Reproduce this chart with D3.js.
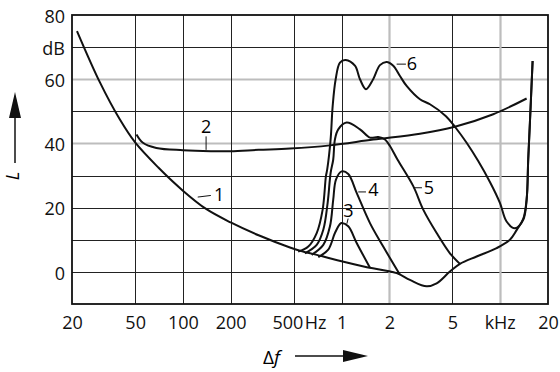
<!DOCTYPE html>
<html>
<head>
<meta charset="utf-8">
<script src="https://cdn.jsdelivr.net/npm/d3@7"></script>
<style>
	body { margin: 0; background: #fff; }
	svg { display: block; font-family: "Open Sans", "Noto Sans", sans-serif; }
	.grid { stroke: #222; stroke-width: 1; }
	.grid.em { stroke: #bdbdbd; stroke-width: 2.2; }
	.curve { fill: none; stroke: #111; stroke-width: 2; }
	.leader { stroke: #111; stroke-width: 1; }
</style>
</head>
<body>
<svg id="chart" width="560" height="372"></svg>
<script>
// frequency in Hz, level in dB
var xTicks = [20, 50, 100, 200, 500, 1000, 2000, 5000, 10000, 20000]
var xTickLabels = ["20", "50", "100", "200", "500", "1", "2", "5", "", "20"]
var xGrid = [50, 100, 200, 500, 1000, 2000, 5000, 10000]
var xGridEm = [2000, 10000]
var yTicks = [80, 70, 60, 40, 20, 0]
var yTickLabels = ["80", "dB", "60", "40", "20", "0"]
var yGrid = [70, 60, 50, 40, 30, 20, 10, 0]
var yGridEm = [60, 40]

var curve1 = [[21.5, 75], [30, 59], [40, 47.5], [50, 40.3], [70, 32.5], [100, 25.3], [140, 19.6],
	[200, 15.4], [300, 11.4], [473, 7.6], [547, 6.6], [767, 4.8], [1000, 3.3], [1400, 1.6],
	[2224, -0.4], [2697, -2.5], [3436, -4.5], [3974, -3.6], [4818, 0.1], [5572, 2.5], [7098, 4.8],
	[9490, 7.4], [11504, 10], [12685, 13], [13960, 16.5], [14666, 22.5], [15010, 35], [15384, 46.5],
	[15998, 65.7]]
var curve2 = [[51, 42.8], [56, 40.2], [68, 38.6], [100, 37.9], [150, 37.6], [200, 37.6], [300, 38],
	[473, 38.4], [845, 39.4], [1582, 41.2], [3118, 43], [5180, 45.2], [9036, 49.1], [14666, 54]]
var curve3 = [[713, 4.6], [824, 6.9], [908, 12.1], [977, 14.9], [1001, 15.2], [1102, 14.2],
	[1245, 9], [1510, 1.3]]
var curve4 = [[648, 5.3], [767, 8.4], [845, 14.2], [886, 22.5], [922, 28.75], [1001, 31.3],
	[1102, 30.5], [1245, 24.6], [1510, 15.2], [1830, 7.9], [2333, -0.9]]
var curve5 = [[588, 5.8], [697, 8.4], [767, 13.1], [817, 21.5], [853, 30.8], [886, 35], [908, 41.25],
	[953, 44.4], [1076, 46.5], [1306, 44.4], [1510, 41.8], [1703, 42], [1877, 41.25], [2018, 39.2],
	[2250, 35], [2830, 26.7], [3271, 19.4], [3974, 12.1], [4818, 5.8], [5572, 2.5]]
var curve6 = [[533, 6.3], [617, 7.9], [697, 12.1], [760, 19.4], [797, 29.8], [812, 31.9], [853, 41.25],
	[879, 51.7], [918, 60], [977, 65.2], [1061, 66], [1214, 64.2], [1306, 60], [1425, 56.9], [1582, 60],
	[1745, 64.4], [1923, 65.4], [2117, 64.2], [2333, 61], [2570, 57.9], [3118, 53.75], [3606, 52.2],
	[4548, 48.5], [5180, 45.2], [6140, 40.2], [7264, 34.5], [8610, 28], [9954, 21.5], [10966, 15.7],
	[12376, 13.6], [13960, 16.25], [14666, 22.5], [15010, 35], [15384, 46.5], [15998, 65.7]]
var curves = [curve1, curve2, curve3, curve4, curve5, curve6]

// curve numbers: text at [f, L], leader from [f, L] to [f, L]
var labels = [
	{text: "1", at: [169, 24.1], from: [124, 23.3], to: [150, 23.8]},
	{text: "2", at: [140, 45.3], from: [140, 42.2], to: [140, 38]},
	{text: "3", at: [1105, 19.2], from: [1100, 16.6], to: [1080, 15]},
	{text: "4", at: [1588, 25.5], from: [1274, 24.9], to: [1425, 24.9]},
	{text: "5", at: [3554, 26.1], from: [2830, 26.2], to: [3210, 26.2]},
	{text: "6", at: [2777, 64.7], from: [2224, 64.7], to: [2544, 64.7]}
]

var plotL = 72, plotR = 548, plotT = 15, plotB = 304

var x = d3.scaleLog().domain([20, 20000]).range([plotL, plotR])
var y = d3.scaleLinear().domain([-10, 80]).range([plotB, plotT])

var svg = d3.select("#chart")

svg.append("g")
.selectAll("line")
.data(yGrid)
.join("line")
.attr("class", d => yGridEm.includes(d) ? "grid em" : "grid")
.attr("x1", plotL)
.attr("x2", plotR)
.attr("y1", d => Math.round(y(d)) + 0.5)
.attr("y2", d => Math.round(y(d)) + 0.5)

svg.append("g")
.selectAll("line")
.data(xGrid)
.join("line")
.attr("class", d => xGridEm.includes(d) ? "grid em" : "grid")
.attr("x1", d => Math.round(x(d)) + 0.5)
.attr("x2", d => Math.round(x(d)) + 0.5)
.attr("y1", plotT)
.attr("y2", plotB)

svg.append("rect")
.attr("x", plotL)
.attr("y", plotT)
.attr("width", plotR - plotL)
.attr("height", plotB - plotT)
.attr("fill", "none")
.attr("stroke", "#111")
.attr("stroke-width", 1.8)

var line = d3.line()
.x(d => x(d[0]))
.y(d => y(d[1]))
.curve(d3.curveCatmullRom.alpha(0.5))

svg.append("g")
.selectAll("path")
.data(curves)
.join("path")
.attr("class", "curve")
.attr("d", line)

var lab = svg.append("g")
lab.selectAll("line")
.data(labels)
.join("line")
.attr("class", "leader")
.attr("x1", d => x(d.from[0]))
.attr("y1", d => y(d.from[1]))
.attr("x2", d => x(d.to[0]))
.attr("y2", d => y(d.to[1]))

lab.selectAll("text")
.data(labels)
.join("text")
.attr("x", d => x(d.at[0]))
.attr("y", d => y(d.at[1]))
.attr("dy", "0.35em")
.attr("text-anchor", "middle")
.attr("font-size", 18)
.text(d => d.text)

// axes
var xAxis = svg.append("g")
.attr("transform", "translate(0," + plotB + ")")
.call(d3.axisBottom(x).tickValues(xTicks).tickFormat((d, i) => xTickLabels[i]).tickSize(0).tickPadding(12))
xAxis.select(".domain").remove()
xAxis.attr("font-family", null)
xAxis.selectAll(".tick text")
.attr("font-size", 18)
.attr("fill", "#111")
.filter(d => d == 500)
.attr("text-anchor", "end")
.attr("x", 9)

xAxis.append("text")
.attr("x", x(500) + 11)
.attr("y", 12)
.attr("dy", "0.71em")
.attr("text-anchor", "start")
.attr("font-size", 18)
.attr("fill", "#111")
.text("Hz")

xAxis.append("text")
.attr("x", x(10000))
.attr("y", 12)
.attr("dy", "0.71em")
.attr("text-anchor", "middle")
.attr("font-size", 18)
.attr("fill", "#111")
.text("kHz")

var yAxis = svg.append("g")
.attr("transform", "translate(" + plotL + ",0)")
.call(d3.axisLeft(y).tickValues(yTicks).tickFormat((d, i) => yTickLabels[i]).tickSize(0).tickPadding(7))
yAxis.select(".domain").remove()
yAxis.attr("font-family", null)
yAxis.selectAll("text")
.attr("font-size", 18)
.attr("fill", "#111")
.attr("dy", "0.4em")

// axis titles with arrows
var title = svg.append("g")
title.append("text")
.attr("transform", "translate(19,176) rotate(-90)")
.attr("text-anchor", "middle")
.attr("font-size", 18)
.attr("font-style", "italic")
.text("L")
title.append("line")
.attr("x1", 15).attr("x2", 15)
.attr("y1", 163).attr("y2", 110)
.attr("stroke", "#111").attr("stroke-width", 1.5)
title.append("path")
.attr("d", "M15,92 L21,118 L9,118 Z")
.attr("fill", "#111")

var df = title.append("text")
.attr("x", 263)
.attr("y", 364)
.attr("font-size", 19)
df.append("tspan").text("Δ")
df.append("tspan").attr("font-style", "italic").text("f")
title.append("line")
.attr("x1", 295).attr("x2", 350)
.attr("y1", 356).attr("y2", 356)
.attr("stroke", "#111").attr("stroke-width", 1.5)
title.append("path")
.attr("d", "M368,356 L343,350 L343,362 Z")
.attr("fill", "#111")
</script>
</body>
</html>
